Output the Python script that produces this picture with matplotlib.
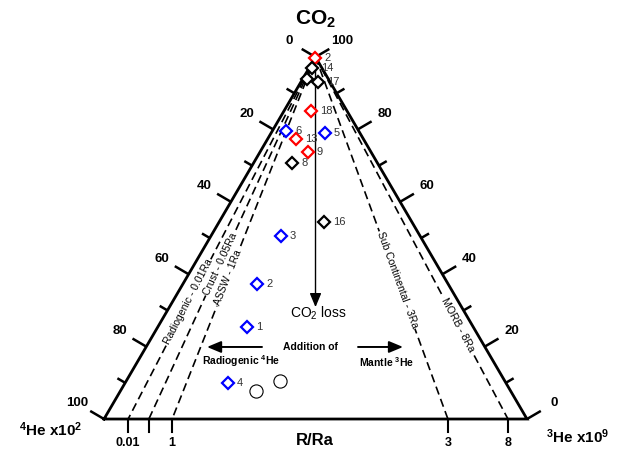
import numpy as np
import matplotlib
matplotlib.use("Agg")
import matplotlib.pyplot as plt

plt.rcParams['font.family'] = ['Liberation Sans', 'DejaVu Sans']
plt.rcParams['mathtext.fontset'] = 'custom'
plt.rcParams['mathtext.rm'] = 'Liberation Sans'
plt.rcParams['mathtext.bf'] = 'Liberation Sans:bold'
plt.rcParams['mathtext.it'] = 'Liberation Sans:italic'

# Gas samples (%): CO2, 4He (x10^2), 3He (x10^9)
sample_labels = ["2", "14", "", "17", "18", "6", "13", "5", "9", "8", "16", "3", "2", "1", "4"]
sample_groups = ["red", "black", "black", "black", "red", "blue", "red", "blue",
                 "red", "black", "black", "blue", "blue", "blue", "blue"]
co2 = [99.8, 96.9, 93.9, 93.0, 85.1, 79.6, 77.3, 79.0, 73.8, 70.7, 54.4, 50.6, 37.3, 25.4, 9.9]
he4 = [0.2, 2.3, 5.1, 2.9, 8.5, 17.2, 15.9, 8.3, 14.9, 20.2, 20.8, 32.9, 45.2, 53.5, 65.7]
he3 = [0.0, 0.8, 1.0, 4.1, 6.4, 3.2, 6.7, 12.8, 11.3, 9.1, 24.8, 16.5, 17.5, 21.1, 24.3]

# Unlabelled samples (open circles)
ref_co2 = [10.5, 7.7]
ref_he4 = [53.1, 60.2]
ref_he3 = [36.4, 32.1]

# R/Ra reference lines and where they meet the base (3He fraction)
ratio_values = [0.01, 0.05, 1, 3, 8]
ratio_names = ["Radiogenic - 0.01Ra", "Crust - 0.05Ra", "ASSW - 1Ra",
               "Sub Continental - 3Ra", "MORB - 8Ra"]
ratio_base = [0.057, 0.106, 0.161, 0.813, 0.955]
ratio_ticklabels = ["0.01", "", "1", "3", "8"]
ratio_label_pos = [0.677, 0.572, 0.61, 0.616, 0.74]

# Side axis ticks (%)
side_ticks = list(range(0, 101, 10))
side_major = list(range(0, 101, 20))

group_colors = {"red": "#ff0000", "blue": "#0000ff", "black": "#000000"}

fig = plt.figure(figsize=(6.27, 4.55), dpi=100)
ax = fig.add_axes([0, 0, 1, 1])
ax.set_xlim(-0.2459, 1.2364)
ax.set_ylim(-0.0994, 1.1575)
ax.axis('off')


def tern(c, h4, h3):
    c, h4, h3 = (np.asarray(v, dtype=float) for v in (c, h4, h3))
    s = c + h4 + h3
    y = c / s
    x = h3 / s + 0.5 * y
    return x, y


to_disp = ax.transData.transform
to_data = ax.transData.inverted().transform

L = np.array([0.0, 0.0])
R = np.array([1.0, 0.0])
T = np.array([0.5, 1.0])


def unit(v):
    v = np.asarray(v, dtype=float)
    return v / np.hypot(*v)


eL = unit(to_disp(T) - to_disp(L))
eR = unit(to_disp(T) - to_disp(R))
nL = np.array([-eL[1], eL[0]])   # outward normal, left side
nR = np.array([eR[1], -eR[0]])   # outward normal, right side
nB = np.array([0.0, -1.0])


def shift(pt, n, dist_px):
    return to_data(to_disp(pt) + n * dist_px)


# triangle frame
ax.plot([L[0], R[0], T[0], L[0]], [L[1], R[1], T[1], L[1]],
        color='black', lw=2.0, solid_joinstyle='miter', zorder=3)

# side ticks and labels
lab_kw = dict(fontsize=9.5, fontweight='bold', ha='center', va='center')
for v in side_ticks:
    major = v in side_major
    ln = 16 if major else 9
    # left side: 4He
    p = np.array(tern(100 - v, v, 0))
    q = shift(p, nL, ln)
    ax.plot([p[0], q[0]], [p[1], q[1]], color='black', lw=1.8, zorder=3,
            solid_capstyle='butt')
    if major:
        t = shift(p, nL, 31)
        ax.text(t[0], t[1], str(v), **lab_kw)
    # right side: CO2
    p = np.array(tern(v, 0, 100 - v))
    q = shift(p, nR, ln)
    ax.plot([p[0], q[0]], [p[1], q[1]], color='black', lw=1.8, zorder=3,
            solid_capstyle='butt')
    if major:
        t = shift(p, nR, 31)
        ax.text(t[0], t[1], str(v), **lab_kw)

# R/Ra lines and base ticks
for b, name, tl, pos in zip(ratio_base, ratio_names, ratio_ticklabels, ratio_label_pos):
    base = np.array([b, 0.0])
    ax.plot([T[0], b], [T[1], 0], color='black', lw=1.2,
            linestyle=(0, (5, 2.8)), zorder=2)
    q = shift(base, nB, 13)
    ax.plot([b, q[0]], [0, q[1]], color='black', lw=1.5, zorder=3)
    if tl:
        t = shift(base, nB, 24)
        ax.text(t[0], t[1], tl, fontsize=9, fontweight='bold', ha='center', va='center')
    # label along the line
    m = T + (base - T) * pos
    d = to_disp(T) - to_disp(base) if b < 0.5 else to_disp(base) - to_disp(T)
    ang = np.degrees(np.arctan2(d[1], d[0]))
    ax.text(m[0], m[1], name, fontsize=7.5, rotation=ang, rotation_mode='anchor',
            ha='center', va='center', zorder=4,
            bbox=dict(facecolor='white', edgecolor='none', pad=0.6))

# CO2 loss arrow
ax.annotate('', xy=(0.5, 0.309), xytext=(T[0], T[1]),
            arrowprops=dict(arrowstyle='-|>,head_length=0.6,head_width=0.25',
                            color='black', lw=1.0, shrinkA=0, shrinkB=0,
                            mutation_scale=14), zorder=2)
ax.text(0.506, 0.293, r'CO$_2$ loss', fontsize=10, ha='center', va='center')

# addition arrows
ax.text(0.487, 0.199, 'Addition of', fontsize=7.5, fontweight='bold',
        ha='center', va='center')
harrow = dict(arrowstyle='-|>,head_length=0.6,head_width=0.25', color='black',
              lw=1.4, shrinkA=0, shrinkB=0, mutation_scale=14)
ax.annotate('', xy=(0.2435, 0.199), xytext=(0.3735, 0.199), arrowprops=harrow)
ax.annotate('', xy=(0.7069, 0.199), xytext=(0.6005, 0.199), arrowprops=harrow)
ax.text(0.3239, 0.160, r'Radiogenic $^{\mathbf{4}}$He', fontsize=7.5, fontweight='bold',
        ha='center', va='center')
ax.text(0.669, 0.1575, r'Mantle $^{\mathbf{3}}$He', fontsize=7.5, fontweight='bold',
        ha='center', va='center')

# samples
xs, ys = tern(co2, he4, he3)
for x, y, lab, g in zip(xs, ys, sample_labels, sample_groups):
    ax.plot(x, y, marker='D', ms=6, mfc='white', mec=group_colors[g], mew=1.6,
            linestyle='none', zorder=6)
    if lab:
        ax.annotate(lab, (x, y), xytext=(6.5, 0), textcoords='offset points',
                    fontsize=8, color='#333333', ha='left', va='center', zorder=7)

rx, ry = tern(ref_co2, ref_he4, ref_he3)
ax.plot(rx, ry, marker='o', ms=9.5, mfc='white', mec='black', mew=0.8,
        linestyle='none', zorder=6)

# axis titles
ax.text(0.501, 1.105, r'CO$_{\mathbf{2}}$', fontsize=15, fontweight='bold',
        ha='center', va='center')
ax.text(0.499, -0.058, 'R/Ra', fontsize=12, fontweight='bold', ha='center', va='center')
ax.text(-0.125, -0.030, r'$^{\mathbf{4}}$He x10$^{\mathbf{2}}$', fontsize=11,
        fontweight='bold', ha='center', va='center')
ax.text(1.1206, -0.0497, r'$^{\mathbf{3}}$He x10$^{\mathbf{9}}$', fontsize=11,
        fontweight='bold', ha='center', va='center')

fig.savefig('out.png', dpi=100)
